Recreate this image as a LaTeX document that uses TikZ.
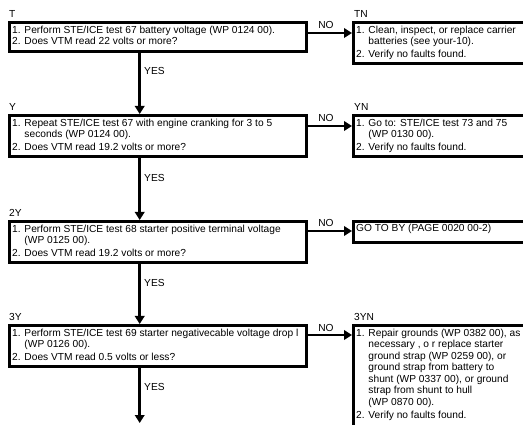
\documentclass[tikz,border=0pt]{standalone}
\usepackage{fontspec}
\setmainfont{Liberation Sans}
\usetikzlibrary{arrows.meta}
\newcommand\diafont{\fontsize{10.2}{11.5}\selectfont}
\newcommand\fl{\rule{0pt}{8pt}}
\newcommand\ind{\hphantom{1. }}
\begin{document}
\begin{tikzpicture}[x=1pt,y=-1pt,
  box/.style={draw=black, line width=2.8pt, rectangle, inner sep=0pt, anchor=north west, minimum width=297pt},
  rbox/.style={box, minimum width=200pt},
  txt/.style={anchor=north west, inner sep=0pt, align=left, font=\diafont},
  lbl/.style={anchor=base west, inner sep=0pt, font=\diafont},
  nolbl/.style={anchor=base, inner sep=0pt, font=\diafont},
  arr/.style={line width=2.5pt, -{Triangle[length=8pt,width=9.5pt]}}
]
\clip (0,0) rectangle (523,425);
% left column boxes
\node[box, minimum height=29pt] (T) at (8,21) {};
\node[box, minimum height=41pt] (Y) at (8,114) {};
\node[box, minimum height=41pt] (n2Y) at (8,220) {};
\node[box, minimum height=41pt] (n3Y) at (8,324) {};
% right column boxes
\node[rbox, minimum height=41pt] (TN) at (352,21) {};
\node[rbox, minimum height=41pt] (YN) at (352,114) {};
\node[rbox, minimum height=21pt] (GO) at (352,220) {};
\node[rbox, minimum height=115pt] (n3YN) at (352,324) {};
% labels
\node[lbl] (lT) at (9,18) {T};
\node[lbl] (lY) at (9,111) {Y};
\node[lbl] (l2Y) at (9,217) {2Y};
\node[lbl] (l3Y) at (9,321) {3Y};
\node[lbl] (lTN) at (354,18) {TN};
\node[lbl] (lYN) at (354,111) {YN};
\node[lbl] (l3YN) at (354,321) {3YN};
% texts
\node[txt] (tT) at (12,25.2) {\fl1. Perform STE/ICE test 67 battery voltage (WP 0124 00).\\
2. Does VTM read 22 volts or more?};
\node[txt] (tY) at (12,118.2) {\fl1. Repeat STE/ICE test 67 with engine cranking for 3 to 5\\
\ind seconds (WP 0124 00).\\[1.5pt]
2. Does VTM read 19.2 volts or more?};
\node[txt] (t2Y) at (12,224.2) {\fl1. Perform STE/ICE test 68 starter positive terminal voltage\\
\ind (WP 0125 00).\\[1.5pt]
2. Does VTM read 19.2 volts or more?};
\node[txt] (t3Y) at (12,328.2) {\fl1. Perform STE/ICE test 69 starter negativecable voltage drop l\\
\ind (WP 0126 00).\\[1.5pt]
2. Does VTM read 0.5 volts or less?};
\node[txt] (tTN) at (356,25.2) {\fl1. Clean, inspect, or replace carrier\\
\ind batteries (see your-10).\\[1.5pt]
2. Verify no faults found.};
\node[txt] (tYN) at (356,118.2) {\fl1. Go to: STE/ICE test 73 and 75\\
\ind (WP 0130 00).\\[1.5pt]
2. Verify no faults found.};
\node[txt] (tGO) at (356,223.7) {\fl GO TO BY (PAGE 0020 00-2)};
\node[txt] (t3YN) at (356,328.2) {\fl1. Repair grounds (WP 0382 00), as\\
\ind necessary , o r replace starter\\
\ind ground strap (WP 0259 00), or\\
\ind ground strap from battery to\\
\ind shunt (WP 0337 00), or ground\\
\ind strap from shunt to hull\\
\ind (WP 0870 00).\\[1.5pt]
2. Verify no faults found.};
% NO connectors
\draw[arr] ([yshift=-12pt]T.north east) -- ([yshift=-12pt]TN.north west);
\draw[arr] ([yshift=-12pt]Y.north east) -- ([yshift=-12pt]YN.north west);
\draw[arr] ([yshift=-11pt]n2Y.north east) -- ([yshift=-11pt]GO.north west);
\draw[arr] ([yshift=-11pt]n3Y.north east) -- ([yshift=-11pt]n3YN.north west);
\node[nolbl] (no1) at (326,29) {NO};
\node[nolbl] (no2) at (326,122) {NO};
\node[nolbl] (no3) at (326,227) {NO};
\node[nolbl] (no4) at (326,331) {NO};
% YES connectors
\coordinate (xc) at (139.7,0);
\coordinate (end) at (139.7,423);
\draw[arr] (xc |- T.south) -- (xc |- Y.north);
\draw[arr] (xc |- Y.south) -- (xc |- n2Y.north);
\draw[arr] (xc |- n2Y.south) -- (xc |- n3Y.north);
\draw[arr] (xc |- n3Y.south) -- (end);
\node[lbl] (yes1) at (144,75) {YES};
\node[lbl] (yes2) at (144,182) {YES};
\node[lbl] (yes3) at (144,287) {YES};
\node[lbl] (yes4) at (144,391) {YES};
\end{tikzpicture}
\end{document}
